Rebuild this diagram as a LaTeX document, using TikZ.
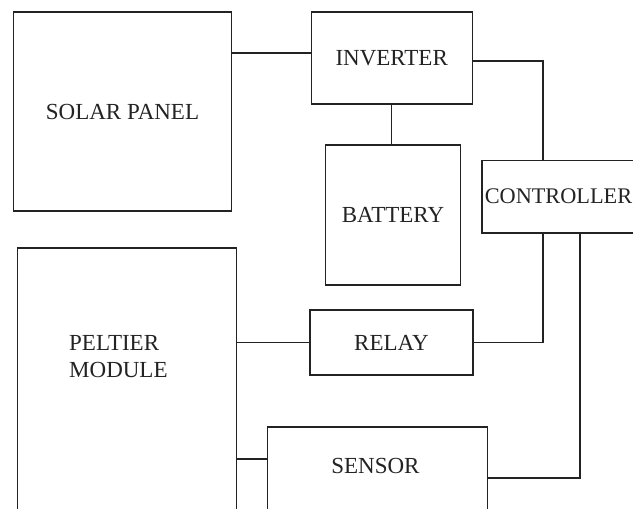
\documentclass[tikz,border=0pt]{standalone}
\usepackage{fontspec}
\setmainfont{Liberation Serif}
\usepackage{tikz}
\usepackage{xcolor}
\usetikzlibrary{positioning,calc}
\definecolor{myink}{RGB}{35,35,35}
\tikzset{
    blk/.style={
        rectangle,
        draw=myink,
        fill=white,
        line width=1.1pt,
        inner sep=0pt,
        text=myink,
        font=\fontsize{23}{27}\selectfont
    },
    lbl/.style={
        align=left,
        inner sep=0pt,
        text=myink,
        font=\fontsize{23}{27}\selectfont
    },
    wire/.style={line width=1.1pt,myink}
}
\begin{document}
\begin{tikzpicture}[x=1pt,y=-1pt]
\useasboundingbox (0,0) rectangle (633,509);
\fill[white] (0,0) rectangle (633,509);
\clip (0,0) rectangle (633,509);

\node[blk,minimum width=218,minimum height=199] (solar) at (122.5,111.5) {SOLAR PANEL};
\node[blk,minimum width=161,minimum height=92] (inverter) at (391.7,58) {INVERTER};
\node[blk,minimum width=135,minimum height=140] (battery) at (393,215) {BATTERY};
\node[blk,minimum width=153,minimum height=72.5,font=\fontsize{22.3}{27}\selectfont] (controller) at (558.5,196.7) {CONTROLLER};
\node[blk,minimum width=163,minimum height=65] (relay) at (391.5,342.5) {RELAY};

\node[blk,minimum width=219,minimum height=300] (peltier) at (126.7,398) {};
\node[lbl,anchor=west] (peltiertext) at (69,357) {PELTIER\\MODULE};

\node[blk,minimum width=220,minimum height=120] (sensor) at (377.5,487) {};
\node[lbl] (sensortext) at (375.5,466) {SENSOR};

\draw[wire] (solar.east |- 0,53) -- (inverter.west |- 0,53);
\draw[wire] (inverter.east |- 0,61) -| (controller.north -| 543,0);
\draw[wire] (inverter.south) -- (battery.north -| inverter.south);

\draw[wire] (peltier.east |- relay.west) -- (relay.west);
\draw[wire] (relay.east) -| (controller.south -| 543,0);

\draw[wire] (peltier.east |- 0,459) -- (sensor.west |- 0,459);
\draw[wire] (sensor.east |- 0,478) -| (controller.south -| 580,0);
\end{tikzpicture}
\end{document}
